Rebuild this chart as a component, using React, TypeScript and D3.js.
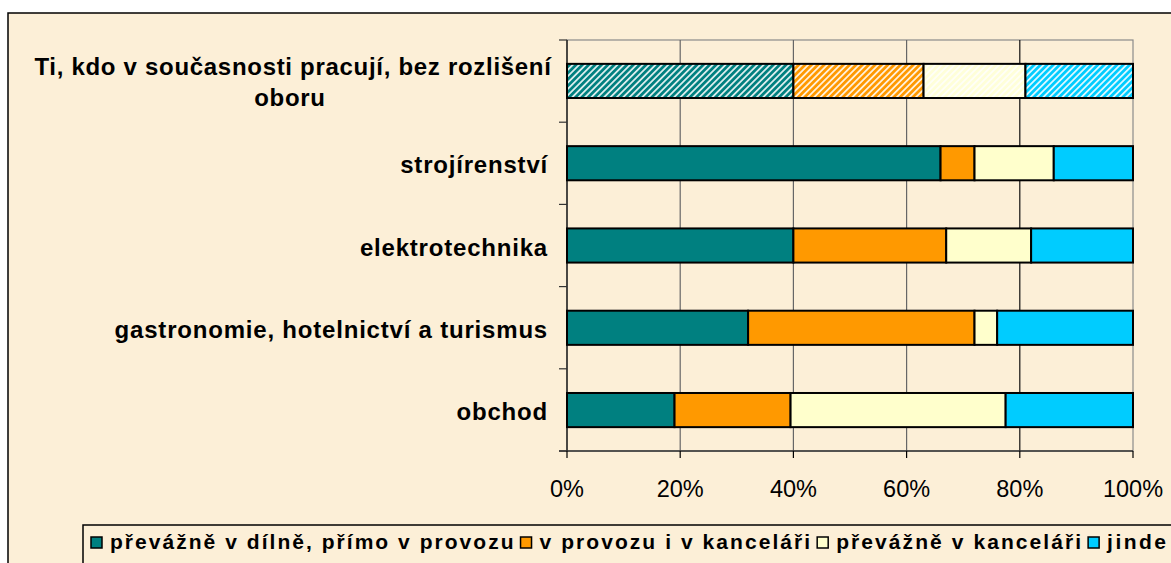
import React, { useLayoutEffect, useRef, useState } from 'react';
import * as d3 from 'd3';

const categories = [
  'Ti, kdo v současnosti pracují, bez rozlišení oboru',
  'strojírenství',
  'elektrotechnika',
  'gastronomie, hotelnictví a turismus',
  'obchod',
];

const seriesNames = [
  'převážně v dílně, přímo v provozu',
  'v provozu i v kanceláři',
  'převážně v kanceláři',
  'jinde',
];

const seriesColors = ['#008080', '#FF9900', '#FFFFCC', '#00CCFF'];

// percentage shares per category, in series order
const dilna = [40, 66, 40, 32, 19];
const provozKancelar = [23, 6, 27, 40, 20.5];
const kancelar = [18, 14, 15, 4, 38];
const jinde = [19, 14, 18, 24, 22.5];

const xTicks = [0, 20, 40, 60, 80, 100];

// the first row is drawn hatched
const hatchedRows = [0];

const W = 1171;
const H = 563;
const margin = { left: 567, right: 38, top: 40, bottom: 112 };

const LEGEND_START = 91;
const LEGEND_END = 1166;
const SWATCH = 11;
const SWATCH_GAP = 8;
const ITEM_GAP = 7;

export default function App() {
  const textRefs = useRef<(SVGTextElement | null)[]>([]);
  const [natural, setNatural] = useState<number[] | null>(null);

  useLayoutEffect(() => {
    const w = textRefs.current.map((t) => (t ? t.getComputedTextLength() : 0));
    setNatural(w);
  }, []);

  const x = d3.scaleLinear().domain([0, 100]).range([margin.left, W - margin.right]);
  const y = d3
    .scaleBand<number>()
    .domain(categories.map((_, i) => i))
    .range([margin.top, H - margin.bottom])
    .paddingInner(0.585)
    .paddingOuter(0.29);

  const rows = categories.map((c, i) => ({ c, i, vals: [dilna[i], provozKancelar[i], kancelar[i], jinde[i]] }));
  const stacked = d3.stack<any>().keys(['0', '1', '2', '3'])(
    rows.map((r) => ({ '0': r.vals[0], '1': r.vals[1], '2': r.vals[2], '3': r.vals[3] }))
  );

  const y0 = margin.top;
  const y1 = H - margin.bottom;
  const step = (y1 - y0) / categories.length;
  const boundaries = d3.range(categories.length + 1).map((k) => y0 + k * step);

  const font = 'Arial, "Liberation Sans", sans-serif';

  // legend flow: spread the text evenly so it ends where the picture's does
  let legendX: number[] = [];
  let legendW: (number | undefined)[] = seriesNames.map(() => undefined);
  if (natural) {
    const chars = d3.sum(seriesNames, (s) => s.length);
    const fixed = seriesNames.length * (SWATCH + SWATCH_GAP) + (seriesNames.length - 1) * ITEM_GAP;
    const ls = Math.max(0, (LEGEND_END - LEGEND_START - fixed - d3.sum(natural)) / chars);
    legendW = natural.map((n, k) => n + ls * seriesNames[k].length);
    let cx = LEGEND_START;
    legendW.forEach((w) => {
      legendX.push(cx);
      cx += SWATCH + SWATCH_GAP + (w as number) + ITEM_GAP;
    });
  } else {
    legendX = [91, 520, 812, 1082];
  }

  return (
    <svg width={W} height={H} style={{ position: 'absolute', left: 0, top: 0, background: '#fff' }} fontFamily={font}>
      <defs>
        {seriesColors.map((col, k) => (
          <pattern key={k} id={`hatch${k}`} width={4.5} height={4.5} patternUnits="userSpaceOnUse" patternTransform="rotate(45)">
            <rect width={4.5} height={4.5} fill={k === 2 ? '#FFFFD9' : col} />
            <rect width={1.8} height={4.5} fill="#fff" opacity={k === 2 ? 0.8 : 0.85} />
          </pattern>
        ))}
      </defs>

      {/* chart area */}
      <rect x={8} y={13} width={W} height={H} fill="#FCEFD7" stroke="#000" strokeWidth={1.5} />

      {/* plot area border */}
      <rect x={x(0)} y={y0} width={x(100) - x(0)} height={y1 - y0} fill="none" stroke="#8a8a8a" strokeWidth={1.2} />

      {/* vertical gridlines */}
      {xTicks.slice(1, -1).map((t) => (
        <line key={t} x1={x(t)} x2={x(t)} y1={y0} y2={y1} stroke={t === 80 ? '#111' : '#666'} strokeWidth={1.2} />
      ))}

      {/* bars */}
      {stacked.map((layer, k) =>
        layer.map((d, i) => (
          <rect
            key={`${k}-${i}`}
            x={x(d[0])}
            y={y(i)!}
            width={x(d[1]) - x(d[0])}
            height={y.bandwidth()}
            fill={hatchedRows.includes(i) ? `url(#hatch${k})` : seriesColors[k]}
            stroke="#000"
            strokeWidth={2}
          />
        ))
      )}

      {/* axes */}
      <line x1={x(0)} x2={x(0)} y1={y0} y2={y1} stroke="#000" strokeWidth={1.2} />
      {boundaries.map((b, k) => (
        <line key={k} x1={x(0) - 8} x2={x(0)} y1={b} y2={b} stroke="#333" strokeWidth={1.2} />
      ))}
      <line x1={x(0) - 8} x2={x(100)} y1={y1} y2={y1} stroke="#333" strokeWidth={1.4} />
      {xTicks.map((t) => (
        <g key={t}>
          <line x1={x(t)} x2={x(t)} y1={y1} y2={y1 + 7} stroke="#000" strokeWidth={1.2} />
          <text x={x(t)} y={y1 + 46} textAnchor="middle" fontSize={23.5} fill="#000">
            {t}%
          </text>
        </g>
      ))}

      {/* category labels */}
      {rows.map((r) =>
        r.i === 0 ? (
          <text key={r.i} textAnchor="middle" fontSize={24} fontWeight="bold" fill="#000" letterSpacing={0.7}>
            <tspan x={293} y={75}>Ti, kdo v současnosti pracují, bez rozlišení</tspan>
            <tspan x={290} y={106}>oboru</tspan>
          </text>
        ) : (
          <text
            key={r.i}
            x={548}
            y={y(r.i)! + y.bandwidth() / 2 + 10}
            textAnchor="end"
            fontSize={24}
            fontWeight="bold"
            fill="#000"
            letterSpacing={0.8}
          >
            {r.c}
          </text>
        )
      )}

      {/* legend */}
      <rect x={83} y={525} width={W} height={60} fill="#FCEFD7" stroke="#000" strokeWidth={1.5} />
      {seriesNames.map((s, k) => (
        <g key={s}>
          <rect x={legendX[k]} y={537} width={SWATCH} height={SWATCH} fill={seriesColors[k]} stroke="#000" strokeWidth={1.5} />
          <text
            ref={(el) => {
              textRefs.current[k] = el;
            }}
            x={legendX[k] + SWATCH + SWATCH_GAP}
            y={549}
            fontSize={21}
            fontWeight="bold"
            fill="#000"
            textLength={legendW[k]}
            lengthAdjust="spacing"
          >
            {s}
          </text>
        </g>
      ))}
    </svg>
  );
}
